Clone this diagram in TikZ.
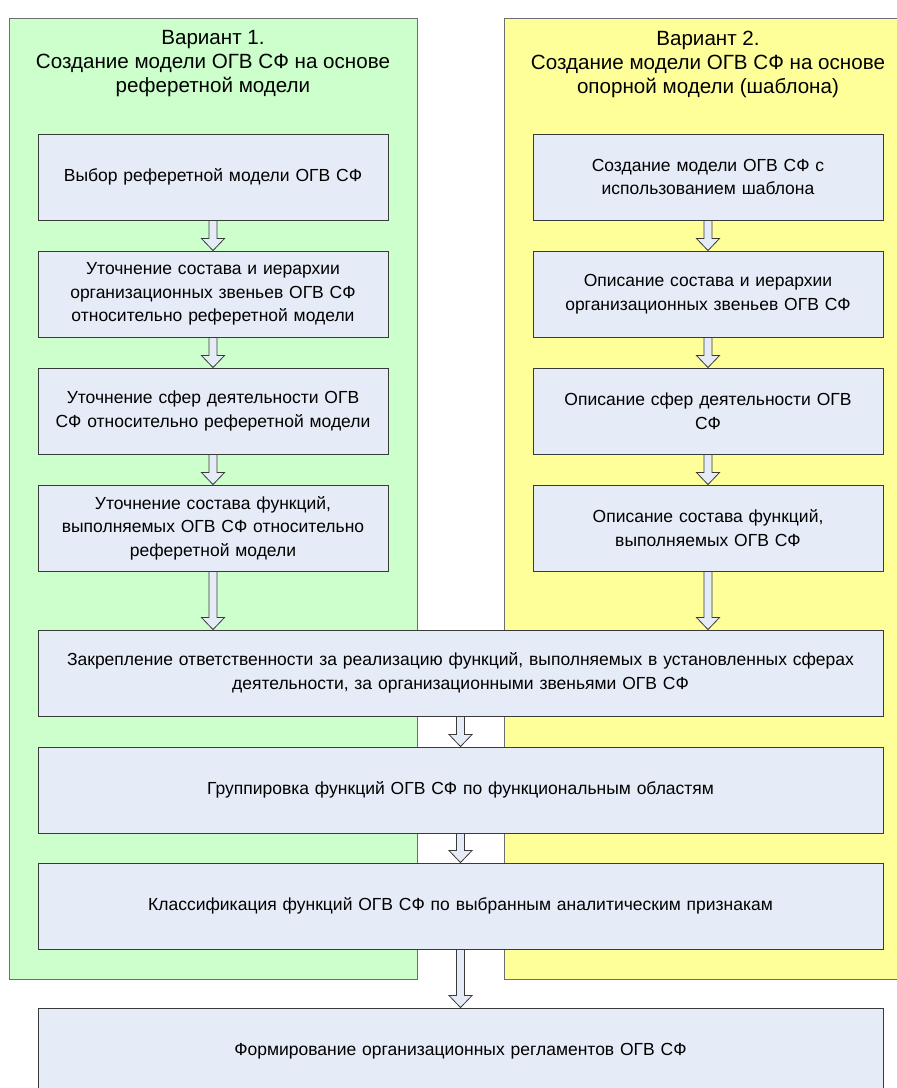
\documentclass[tikz,border=0pt]{standalone}
\usepackage{fontspec}
\setmainfont{Liberation Sans}
\usepackage{xcolor}
\usetikzlibrary{calc}
\definecolor{panelgreen}{HTML}{CCFFCC}
\definecolor{panelyellow}{HTML}{FFFF99}
\definecolor{panelline}{HTML}{6E6E6E}
\definecolor{boxfill}{HTML}{E6ECF7}
\definecolor{boxline}{HTML}{3A3A3A}

% hollow block arrow from the bottom of #1 to the top of #2
\newcommand{\flowarrow}[2]{%
  \draw[hollow] let \p1=(#1.south), \p2=(#2.north) in
    (\x1-4pt,\y1) -- (\x1-4pt,\y2+12pt) -- (\x1-11.5pt,\y2+12pt) -- (\x1,\y2)
    -- (\x1+11.5pt,\y2+12pt) -- (\x1+4pt,\y2+12pt) -- (\x1+4pt,\y1) -- cycle;}

\begin{document}
\begin{tikzpicture}[x=1pt, y=-1pt, line join=miter,
    stage/.style={draw=boxline, fill=boxfill, line width=0.9pt, inner sep=0pt,
                  minimum width=350pt, minimum height=86pt, text width=342pt,
                  align=center, font=\fontsize{17.5}{23.5}\selectfont},
    widestage/.style={stage, minimum width=845pt, text width=838pt},
    hollow/.style={draw=boxline, fill=boxfill, line width=0.8pt},
    paneltitle/.style={align=center, font=\fontsize{20.6}{24}\selectfont}]

  \useasboundingbox (0,0) rectangle (897,1088);
  \clip (0,0) rectangle (897,1088);

  % ---- the two variant panels ------------------------------------------------
  \draw[fill=panelgreen, draw=panelline, line width=0.9pt] (9,18) rectangle (417,979);
  \draw[fill=panelyellow, draw=panelline, line width=0.9pt] (504,18) rectangle (910,979);
  \node[paneltitle] (t1) at (213,64) {Вариант 1.\\Создание модели ОГВ СФ на основе\\реферетной модели};
  \node[paneltitle] (t2) at (708,64) {Вариант 2.\\Создание модели ОГВ СФ на основе\\опорной модели (шаблона)};

  % ---- variant 1 steps -------------------------------------------------------
  \node[stage] (l1) at (213,177) {Выбор реферетной модели ОГВ СФ};
  \node[stage] (l2) at (213,294) {Уточнение состава и иерархии\\организационных звеньев ОГВ СФ\\относительно реферетной модели};
  \node[stage] (l3) at (213,411) {Уточнение сфер деятельности ОГВ\\СФ относительно реферетной модели};
  \node[stage] (l4) at (213,528) {Уточнение состава функций,\\выполняемых ОГВ СФ относительно\\реферетной модели};

  % ---- variant 2 steps -------------------------------------------------------
  \node[stage] (r1) at (708,177) {Создание модели ОГВ СФ с\\использованием шаблона};
  \node[stage] (r2) at (708,294) {Описание состава и иерархии\\организационных звеньев ОГВ СФ};
  \node[stage] (r3) at (708,411) {Описание сфер деятельности ОГВ\\СФ};
  \node[stage] (r4) at (708,528) {Описание состава функций,\\выполняемых ОГВ СФ};

  % ---- common steps ----------------------------------------------------------
  \node[widestage] (w1) at (460.5,673) {Закрепление ответственности за реализацию функций, выполняемых в установленных сферах\\деятельности, за организационными звеньями ОГВ СФ};
  \node[widestage] (w2) at (460.5,790) {Группировка функций ОГВ СФ по функциональным областям};
  \node[widestage] (w3) at (460.5,906) {Классификация функций ОГВ СФ по выбранным аналитическим признакам};
  \node[widestage] (fin) at (460.5,1051) {Формирование организационных регламентов ОГВ СФ};

  % ---- arrows ----------------------------------------------------------------
  \foreach \a/\b in {l1/l2, l2/l3, l3/l4, l4/w1, r1/r2, r2/r3, r3/r4, r4/w1,
                     w1/w2, w2/w3, w3/fin}{
    \flowarrow{\a}{\b}}
\end{tikzpicture}
\end{document}
